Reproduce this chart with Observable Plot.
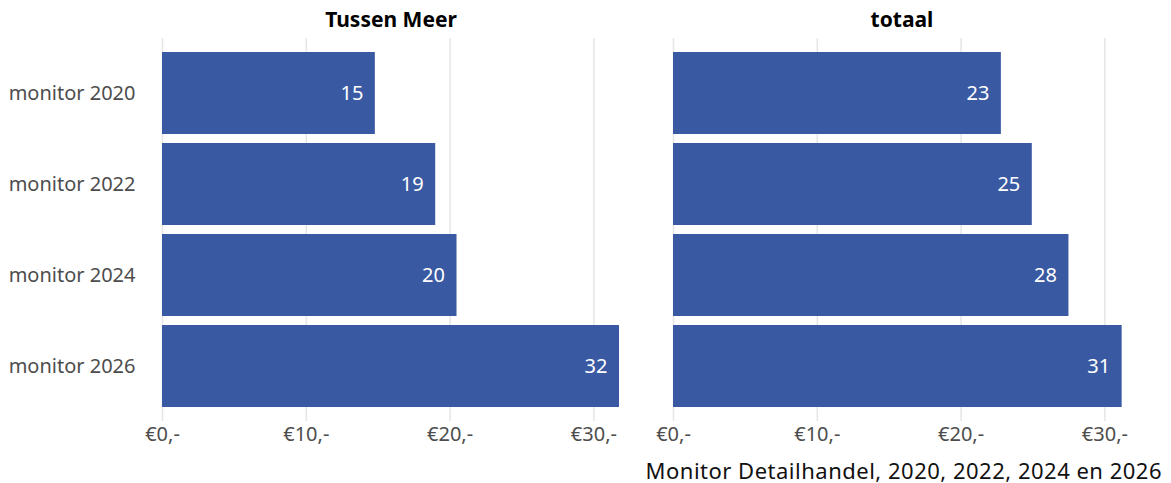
<!DOCTYPE html>
<html>
<head>
<meta charset="utf-8">
<script src="https://cdn.jsdelivr.net/npm/d3@7"></script>
<script src="https://cdn.jsdelivr.net/npm/@observablehq/plot@0.6"></script>
<style>
  html, body { margin: 0; padding: 0; background: #fff; }
  body { width: 1171px; font-family: "Noto Sans", sans-serif; }
  #caption { text-align: right; padding-right: 9px; font-size: 22px; letter-spacing: 0.5px; line-height: 24px; padding-top: 8px; color: #111; }
</style>
</head>
<body>
<div id="chart"></div>
<div id="caption">Monitor Detailhandel, 2020, 2022, 2024 en 2026</div>
<script>
const categories = ["monitor 2020", "monitor 2022", "monitor 2024", "monitor 2026"];
const facets = ["Tussen Meer", "totaal"];
const tussenMeer = [14.8, 19.0, 20.48, 31.78];
const totaal = [22.8, 24.95, 27.5, 31.2];
const xTicks = [0, 10, 20, 30];
const barColor = "#3A59A3";

const rows = [];
categories.forEach((c, i) => {
  rows.push({cat: c, facet: facets[0], value: tussenMeer[i]});
  rows.push({cat: c, facet: facets[1], value: totaal[i]});
});
const xMax = d3.max(rows, d => d.value);

const chart = Plot.plot({
  width: 1171,
  height: 450,
  marginLeft: 162,
  marginRight: 41,
  marginTop: 38,
  marginBottom: 29,
  style: {fontFamily: "Noto Sans, sans-serif", fontSize: "20px", background: "#fff"},
  fx: {domain: facets, paddingInner: 0.106, paddingOuter: 0, label: null},
  x: {domain: [0, xMax], ticks: xTicks, label: null},
  y: {domain: categories, paddingInner: 0.1, paddingOuter: 0.15, label: null},
  marks: [
    Plot.gridX(xTicks, {stroke: "#e6e6e6", strokeOpacity: 1, strokeWidth: 1.5}),
    Plot.barX(rows, {x: "value", y: "cat", fx: "facet", fill: barColor}),
    Plot.text(rows, {x: "value", y: "cat", fx: "facet", text: d => String(Math.round(d.value)), textAnchor: "end", dx: -12, fill: "white", fontSize: 20}),
    Plot.axisFx({anchor: "top", tickSize: 0, tickPadding: 12, fontSize: 21, fontWeight: "bold", fill: "#000", label: null}),
    Plot.axisX(xTicks, {anchor: "bottom", tickSize: 0, tickPadding: 5, tickFormat: d => `€${d},-`, fill: "#4d4d4d", label: null}),
    Plot.axisY({anchor: "left", tickSize: 0, tickPadding: 27, fill: "#4d4d4d", label: null})
  ]
});
document.getElementById("chart").appendChild(chart);
</script>
</body>
</html>
